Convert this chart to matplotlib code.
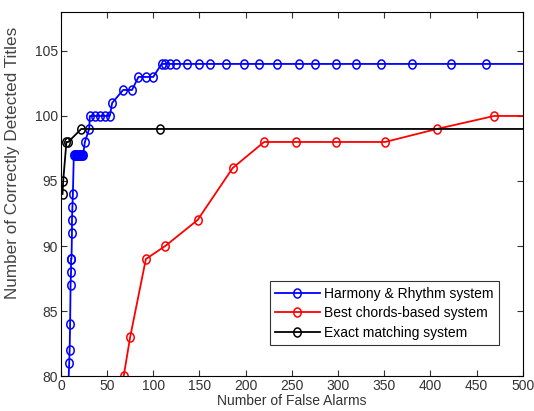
import matplotlib
matplotlib.use("Agg")
import numpy as np
import matplotlib.pyplot as plt
from matplotlib.path import Path

plt.rcParams["font.family"] = ["Liberation Sans", "DejaVu Sans"]

# Harmony & Rhythm system
hr_x = [8, 9, 9.5, 10, 10.5, 11, 11, 11.5, 12, 12, 12.5,
        13, 14, 15, 16, 17, 18, 19, 20, 21, 22, 23, 24,
        26, 30.6, 31.4, 36.8, 42, 47.6, 53, 55.5, 67.4, 77, 84, 92.5, 100,
        109, 112.6, 118, 124.5, 136, 149, 161, 179, 198, 215, 234, 258,
        275, 298, 319, 347, 380, 422, 460, 500]
hr_y = [79, 81, 82, 84, 87, 88, 89, 89, 91, 92, 93,
        94, 97, 97, 97, 97, 97, 97, 97, 97, 97, 97, 97,
        98, 99, 100, 100, 100, 100, 100, 101, 102, 102, 103, 103, 103,
        104, 104, 104, 104, 104, 104, 104, 104, 104, 104, 104, 104,
        104, 104, 104, 104, 104, 104, 104, 104]

# Best chords-based system
bc_x = [68, 75, 92, 113, 148, 186, 220, 255, 298, 351, 407, 469, 500]
bc_y = [80, 83, 89, 90, 92, 96, 98, 98, 98, 98, 99, 100, 100]

# Exact matching system
em_x = [1.8, 2.5, 6, 8, 22, 107, 500]
em_y = [94, 95, 98, 98, 99, 99, 99]

# slightly tall open circle, like the stretched original
t = np.linspace(0, 2 * np.pi, 40)
oval = Path(np.column_stack([0.82 * np.cos(t), np.sin(t)]), closed=True)

fig = plt.figure(figsize=(5.34, 4.11), dpi=100)
ax = fig.add_axes([0.114, 0.085, 0.865, 0.886])

style = dict(marker=oval, markerfacecolor="none", markersize=6.5,
             linewidth=1.3, markeredgewidth=1.1)
ax.plot(hr_x, hr_y, color="#0000ff", markevery=list(range(1, len(hr_x) - 1)),
        label="Harmony & Rhythm system", **style)
ax.plot(bc_x, bc_y, color="#ff0000", markevery=list(range(len(bc_x) - 1)),
        label="Best chords-based system", **style)
ax.plot(em_x, em_y, color="black", markevery=list(range(len(em_x) - 1)),
        label="Exact matching system", **style)

ax.set_xlim(0, 500)
ax.set_ylim(80, 108)
ax.set_xticks(range(0, 501, 50))
ax.set_yticks(range(80, 106, 5))
ax.tick_params(direction="in", top=True, right=True, labelsize=10,
               length=4, width=0.8, colors="#333333", pad=2)
for s in ax.spines.values():
    s.set_linewidth(0.8)

ax.set_xlabel("Number of False Alarms", fontsize=10, labelpad=1, color="#333333")
ax.set_ylabel("Number of Correctly Detected Titles", fontsize=12.3,
              color="#444444")
ax.yaxis.set_label_coords(-0.088, 0.585)

leg = ax.legend(loc="lower right", bbox_to_anchor=(0.948, 0.085),
                borderaxespad=0, fontsize=10, frameon=True, fancybox=False,
                edgecolor="black", handlelength=3.2, borderpad=0.4,
                labelspacing=0.38, handletextpad=0.3)
leg.get_frame().set_linewidth(0.8)

fig.savefig("out.png", dpi=100)
